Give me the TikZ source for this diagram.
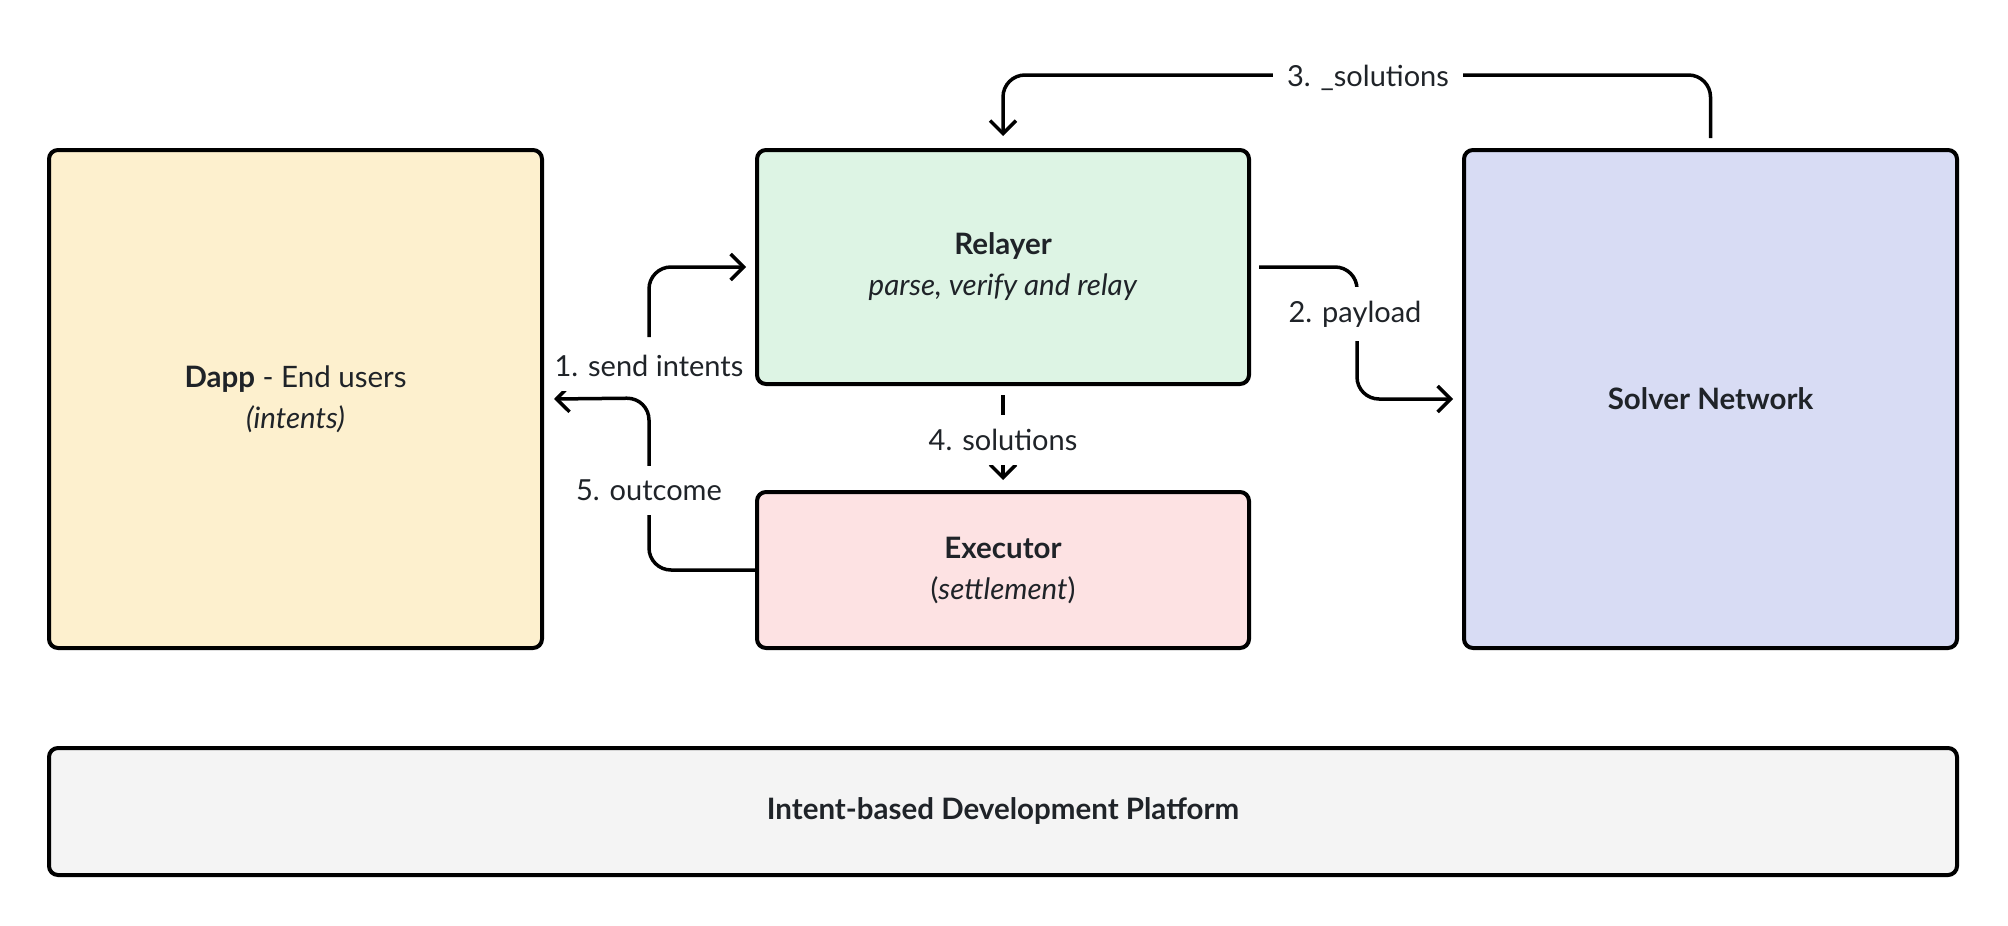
\documentclass[tikz,border=0pt]{standalone}
\usepackage{fontspec}
\setmainfont{Lato}
\usetikzlibrary{arrows.meta}

\definecolor{ink}{HTML}{1F2328}
\definecolor{dappfill}{HTML}{FDF0CE}
\definecolor{relayfill}{HTML}{DDF4E4}
\definecolor{execfill}{HTML}{FDE2E3}
\definecolor{solverfill}{HTML}{D8DCF4}
\definecolor{platfill}{HTML}{F4F4F4}

\begin{document}
\begin{tikzpicture}[x=1pt,y=-1pt]
\tikzstyle{box}=[draw=black, line width=4pt, rounded corners=9pt, inner sep=0pt, text=ink, align=center, font=\fontsize{29.5}{41}\selectfont]
\tikzstyle{flow}=[draw=black, line width=3.5pt, rounded corners=22pt, -{Straight Barb[length=13pt,width=26pt]}]
\tikzstyle{lbl}=[fill=white, text=ink, inner sep=14pt, font=\fontsize{29}{34}\selectfont]

\useasboundingbox (0,0) rectangle (2008,926);

\node[box, fill=dappfill, minimum width=493pt, minimum height=498pt] (dapp) at (295.5,399) {\textbf{Dapp} - End users\\\textit{(intents)}};
\node[box, fill=relayfill, minimum width=492pt, minimum height=234pt] (relayer) at (1003,267) {\textbf{Relayer}\\\textit{parse, verify and relay}};
\node[box, fill=execfill, minimum width=492pt, minimum height=156pt] (executor) at (1003,570) {\textbf{Executor}\\(\textit{settlement})};
\node[box, fill=solverfill, minimum width=493pt, minimum height=498pt] (solver) at (1710.5,399) {\textbf{Solver Network}};
\node[box, fill=platfill, minimum width=1908pt, minimum height=127pt] (platform) at (1003,811.5) {\textbf{Intent-based Development Platform}};

\coordinate (fork) at (649,398);
\coordinate (send) at (649,337);
\coordinate (bend) at (1357,0);
\coordinate (top) at (1003,75);

% 1 and 5
\path[flow] (send) |- ([xshift=-9pt]relayer.west);
\path[flow] (executor.west) -| (fork) -- ([xshift=10pt]dapp.east);
% 2
\path[flow] ([xshift=8pt]relayer.east) -| (bend |- solver.west) -- ([xshift=-9pt]solver.west);
% 3
\path[flow] ([yshift=10pt]solver.north) |- (top) -- ([yshift=12pt]relayer.north);
% 4
\path[flow] ([yshift=-9pt]relayer.south) -- ([yshift=10pt]executor.north);

\node[lbl, inner xsep=3pt] (l1) at (649,366) {1. send intents};
\node[lbl] (l2) at (1355,314) {2. payload};
\node[lbl] (l3) at (1368,78) {3. \_solutions};
\node[lbl] (l4) at (1003,440) {4. solutions};
\node[lbl] (l5) at (649,490) {5. outcome};
\end{tikzpicture}
\end{document}
